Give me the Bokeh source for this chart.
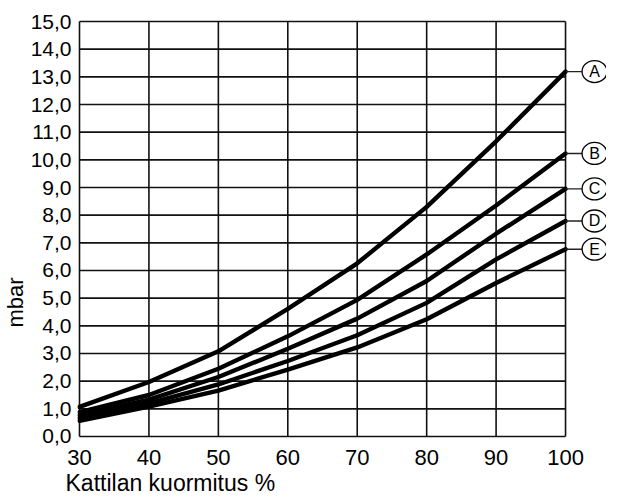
from bokeh.plotting import figure
from bokeh.models import FixedTicker, Range1d, Title
from bokeh.core.properties import value
from bokeh.embed import file_html
from bokeh.resources import INLINE

# ---- data ----
load = [30, 40, 50, 60, 70, 80, 90, 100]
curve_a = [1.07, 1.97, 3.08, 4.61, 6.26, 8.30, 10.67, 13.19]
curve_b = [0.88, 1.50, 2.45, 3.62, 4.94, 6.58, 8.35, 10.23]
curve_c = [0.77, 1.33, 2.15, 3.17, 4.26, 5.62, 7.33, 8.95]
curve_d = [0.67, 1.20, 1.88, 2.73, 3.66, 4.83, 6.40, 7.79]
curve_e = [0.57, 1.08, 1.66, 2.42, 3.22, 4.24, 5.55, 6.77]
curve_names = ["A", "B", "C", "D", "E"]

x_ticks = [30, 40, 50, 60, 70, 80, 90, 100]
x_tick_labels = ["30", "40", "50", "60", "70", "80", "90", "100"]
y_ticks = [0, 1, 2, 3, 4, 5, 6, 7, 8, 9, 10, 11, 12, 13, 14, 15]
y_tick_labels = ["0,0", "1,0", "2,0", "3,0", "4,0", "5,0", "6,0", "7,0",
                 "8,0", "9,0", "10,0", "11,0", "12,0", "13,0", "14,0", "15,0"]

x_label = "Kattilan kuormitus %"
y_label = "mbar"

FONT = "Liberation Sans"
X_MIN, X_MAX = 30, 100
Y_MIN, Y_MAX = 0, 15
X_PAD = 0.288
Y_PAD = 0.0723
X_END = 105.9
LABEL_X = 104.18

p = figure(
    frame_width=529, frame_height=419,
    x_range=Range1d(X_MIN - X_PAD, X_END),
    y_range=Range1d(Y_MIN - Y_PAD, Y_MAX + Y_PAD),
    output_backend="svg", toolbar_location=None,
    min_border_left=0, min_border_right=0, min_border_top=19, min_border_bottom=0,
)
p.outline_line_color = None
p.xgrid.visible = False
p.ygrid.visible = False
p.background_fill_color = "white"
p.border_fill_color = "white"

for ax, ticks, labels, standoff, fsize in ((p.xaxis[0], x_ticks, x_tick_labels, 11, "22px"),
                                           (p.yaxis[0], y_ticks, y_tick_labels, 6, "21px")):
    ax.ticker = FixedTicker(ticks=ticks)
    ax.major_label_overrides = {t: l for t, l in zip(ticks, labels)}
    ax.axis_line_color = None
    ax.major_tick_line_color = None
    ax.minor_tick_line_color = None
    ax.major_tick_out = 0
    ax.major_tick_in = 0
    ax.major_label_standoff = standoff
    ax.major_label_text_font = FONT
    ax.major_label_text_font_size = fsize
    ax.major_label_text_color = "black"

# grid + frame box (limited to the data area)
p.segment(x0=[X_MIN] * len(y_ticks), y0=y_ticks, x1=[X_MAX] * len(y_ticks), y1=y_ticks,
          line_color="#111111", line_width=1.6)
p.segment(x0=x_ticks, y0=[Y_MIN] * len(x_ticks), x1=x_ticks, y1=[Y_MAX] * len(x_ticks),
          line_color="#111111", line_width=1.6)

curves = [curve_a, curve_b, curve_c, curve_d, curve_e]
for c in curves:
    p.line(load, c, line_color="black", line_width=4.4, line_join="round", line_cap="round")

ends = [c[-1] for c in curves]
p.segment(x0=[load[-1]] * len(ends), y0=ends, x1=[LABEL_X] * len(ends), y1=ends,
          line_color="#222222", line_width=1.4)
p.ellipse(x=[LABEL_X] * len(ends), y=ends, width=25, height=22,
          width_units="screen", height_units="screen",
          fill_color="white", line_color="black", line_width=1.3)
p.text(x=[LABEL_X] * len(ends), y=ends, text=curve_names,
       text_align="center", text_baseline="middle",
       text_font=value(FONT), text_font_size="16px", text_color="black")

p.add_layout(Title(text=x_label, align="left", offset=-12, standoff=0,
                   text_font=FONT, text_font_size="23px", text_font_style="normal",
                   text_color="black"), "below")
p.add_layout(Title(text=y_label, align="left", offset=111, standoff=0,
                   text_font=FONT, text_font_size="22px", text_font_style="normal",
                   text_color="black"), "left")

open("out.html", "w").write(file_html(p, INLINE))
